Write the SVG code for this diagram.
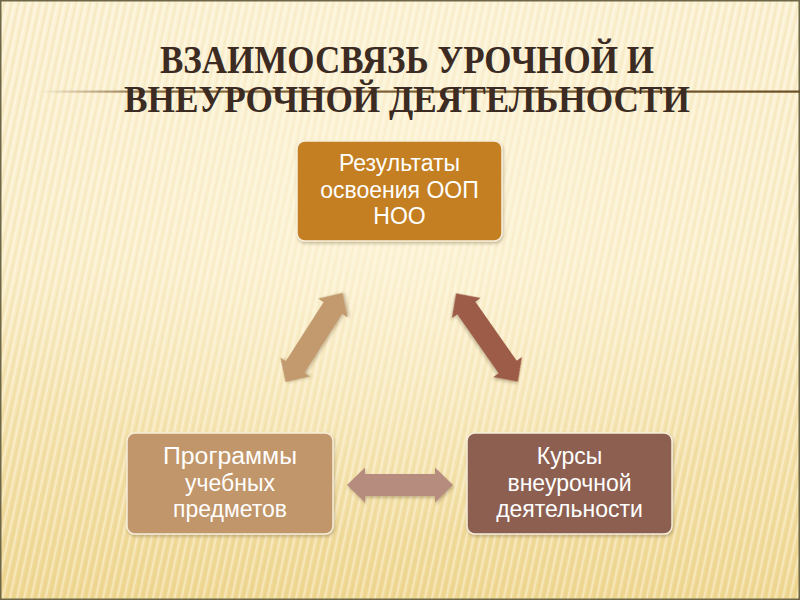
<svg xmlns="http://www.w3.org/2000/svg" width="800" height="600" viewBox="0 0 800 600">
  <defs>
    <linearGradient id="bg" x1="0" y1="0" x2="0" y2="1">
      <stop offset="0" stop-color="#fbf0d0"/>
      <stop offset="0.45" stop-color="#faedc6"/>
      <stop offset="1" stop-color="#f0d893"/>
    </linearGradient>
    <radialGradient id="glow" cx="0.5" cy="0.35" r="0.55">
      <stop offset="0" stop-color="#fff8e2" stop-opacity="0.6"/>
      <stop offset="1" stop-color="#fff8e2" stop-opacity="0"/>
    </radialGradient>
    <pattern id="stripes" width="7" height="20" patternUnits="userSpaceOnUse" patternTransform="rotate(12)">
      <rect x="0" y="0" width="2" height="20" fill="#ffffff" opacity="0.35"/>
      <rect x="4" y="0" width="1.5" height="20" fill="#c9a85a" opacity="0.14"/>
    </pattern>
    <linearGradient id="rule" x1="0" y1="0" x2="1" y2="0">
      <stop offset="0" stop-color="#7a5a2e" stop-opacity="0"/>
      <stop offset="0.15" stop-color="#7a5a2e" stop-opacity="0.9"/>
      <stop offset="1" stop-color="#6b4e26" stop-opacity="1"/>
    </linearGradient>
    <filter id="sh" x="-10%" y="-10%" width="130%" height="130%">
      <feDropShadow dx="1" dy="2" stdDeviation="1.5" flood-color="#6b5530" flood-opacity="0.35"/>
    </filter>
  </defs>
  <style>
    .title { font-family: "Liberation Serif", "DejaVu Serif", serif; font-weight: bold; fill: #3b2b22; text-anchor: middle; }
    .box { stroke: #f7efdc; stroke-width: 1.5; filter: url(#sh); }
    .lbl { font-family: "Liberation Sans", "DejaVu Sans", sans-serif; font-size: 23px; fill: #ffffff; text-anchor: middle; }
    .arrow { filter: url(#sh); }
  </style>

  <rect width="800" height="600" fill="url(#bg)"/>
  <rect width="800" height="600" fill="url(#stripes)"/>
  <rect width="800" height="600" fill="url(#glow)"/>
  <rect x="0.75" y="0.75" width="798.5" height="598.5" fill="none" stroke="#6d6647" stroke-width="1.5"/>

  <g id="title">
    <rect x="40" y="90.5" width="760" height="2.2" fill="url(#rule)"/>
    <text class="title" x="407" y="73" font-size="40" textLength="494" lengthAdjust="spacingAndGlyphs">ВЗАИМОСВЯЗЬ УРОЧНОЙ И</text>
    <text class="title" x="407" y="112" font-size="37" textLength="566" lengthAdjust="spacingAndGlyphs">ВНЕУРОЧНОЙ ДЕЯТЕЛЬНОСТИ</text>
  </g>

  <g id="node-results">
    <rect class="box" x="297" y="141" width="205" height="100" rx="8" fill="#c47f24"/>
    <text class="lbl" x="399.5" y="171">Результаты</text>
    <text class="lbl" x="399.5" y="198">освоения ООП</text>
    <text class="lbl" x="399.5" y="224">НОО</text>
  </g>

  <g id="node-programs">
    <rect class="box" x="127" y="433" width="206" height="101" rx="8" fill="#c1966a"/>
    <text class="lbl" x="230" y="464" textLength="134" lengthAdjust="spacingAndGlyphs">Программы</text>
    <text class="lbl" x="230" y="491">учебных</text>
    <text class="lbl" x="230" y="517">предметов</text>
  </g>

  <g id="node-courses">
    <rect class="box" x="467" y="433" width="205" height="101" rx="8" fill="#8c5f51"/>
    <text class="lbl" x="569.5" y="464">Курсы</text>
    <text class="lbl" x="569.5" y="491">внеурочной</text>
    <text class="lbl" x="569.5" y="517">деятельности</text>
  </g>

  <g id="connectors">
    <path class="arrow" fill="#c39a6e" transform="translate(314 337.5) rotate(-57.4)" d="M -53 0 L -35 -17.5 L -35 -11 L 35 -11 L 35 -17.5 L 53 0 L 35 17.5 L 35 11 L -35 11 L -35 17.5 Z"/>
    <path class="arrow" fill="#9c5c47" transform="translate(487 337.5) rotate(55)" d="M -54 0 L -36 -17.5 L -36 -11 L 36 -11 L 36 -17.5 L 54 0 L 36 17.5 L 36 11 L -36 11 L -36 17.5 Z"/>
    <path class="arrow" fill="#b68c7e" transform="translate(400 485)" d="M -53 0 L -35 -17.5 L -35 -11 L 35 -11 L 35 -17.5 L 53 0 L 35 17.5 L 35 11 L -35 11 L -35 17.5 Z"/>
  </g>
</svg>
